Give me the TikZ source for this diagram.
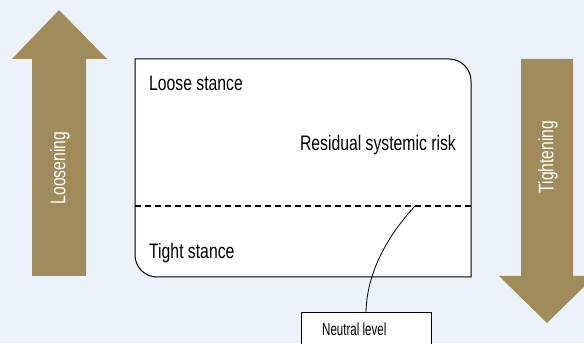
\documentclass[tikz,border=0pt]{standalone}
\usepackage{fontspec}
\setmainfont[FakeStretch=0.75]{Liberation Sans}
\newfontfamily\narrowfont[FakeStretch=0.66]{Liberation Sans}
\begin{document}
\begin{tikzpicture}[x=1pt,y=1pt,
  bigtext/.style={font=\fontsize{21}{23}\selectfont, inner sep=0pt},
  arrowtext/.style={font=\fontsize{21}{23}\selectfont, text=white, rotate=90, inner sep=0pt},
  bigarrow/.style={fill=arrowc, draw=none}]
\definecolor{bgc}{HTML}{EBF2FA}
\definecolor{arrowc}{HTML}{A08C5B}
\useasboundingbox (0,0) rectangle (584,343);
\clip (0,0) rectangle (584,343);
\fill[bgc] (0,0) rectangle (584,343);
% left arrow (up)
\fill[arrowc] (32,67) -- (32,284) -- (12,284) -- (59,333) -- (107,284) -- (86,284) -- (86,67) -- cycle;
\node[arrowtext] (loosening) at (60,175) {Loosening};
% right arrow (down)
\fill[arrowc] (521,284) -- (521,67) -- (499,67) -- (547,20) -- (595,67) -- (573,67) -- (573,284) -- cycle;
\node[arrowtext] (tightening) at (548,186) {Tightening};
% main box
\draw[fill=white, line width=1pt] (135,284) -- (449,284) arc[start angle=90, end angle=0, radius=22pt]
  -- (471,66) -- (157,66) arc[start angle=270, end angle=180, radius=22pt] -- cycle;
\draw[line width=2pt, dash pattern=on 6pt off 4pt] (135,137) -- (471,137);
\node[bigtext, anchor=west] (loose) at (149,260) {Loose stance};
\node[bigtext, anchor=east] (risk) at (456,198) {Residual systemic risk};
\node[bigtext, anchor=west] (tight) at (149,90) {Tight stance};
\coordinate (riskpt) at (415,137);
% neutral box
\node[draw, fill=white, line width=0.8pt, minimum width=130pt, minimum height=51pt, anchor=north, inner sep=0pt] (nbox) at (366,31) {};
\node[font=\narrowfont\fontsize{17.5}{19}\selectfont, inner sep=0pt, anchor=west] (neutral) at (322,14) {Neutral level};
\draw[line width=0.8pt] (riskpt) .. controls (392,112) and (367,75) .. (nbox.north);
\end{tikzpicture}
\end{document}
